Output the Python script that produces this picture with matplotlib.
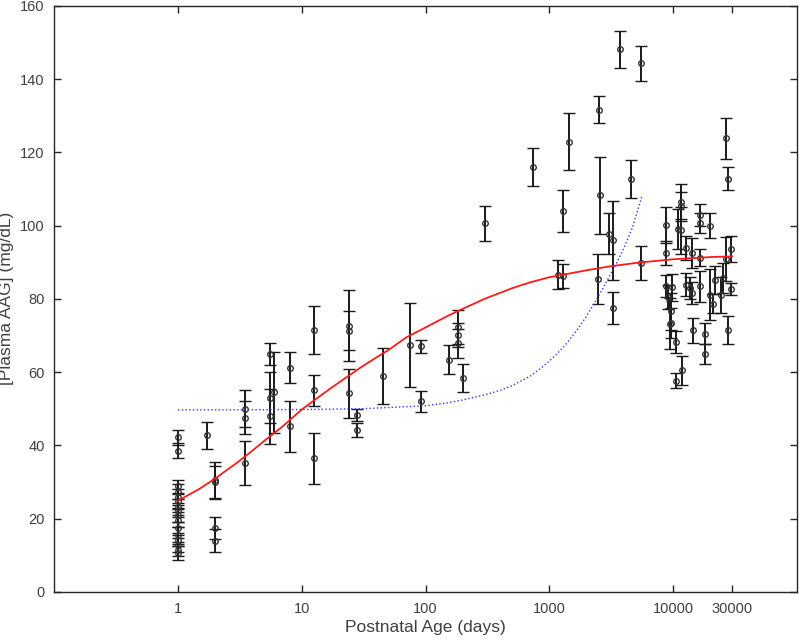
import matplotlib
matplotlib.use('Agg')
import matplotlib.pyplot as plt
from matplotlib.ticker import FixedLocator, FixedFormatter, NullLocator
import numpy as np

# observed AAG by postnatal age: mean and SD
age = [1, 1, 1, 1, 1, 1, 1, 1, 1, 1, 1, 1, 1, 1, 1, 1,
       1.7, 2.0, 2.0, 2.0, 2.0,
       3.5, 3.5, 3.5,
       5.5, 5.5, 5.5, 6.0,
       8.0, 8.0,
       12.5, 12.5, 12.5,
       24, 24, 24, 28, 28,
       45, 75, 91, 91, 154, 182, 182, 182, 202,
       300, 733, 1170, 1290, 1290, 1450,
       2460, 2520, 2570, 3020, 3250, 3250, 3700, 4600, 5550, 5550,
       8830, 8770, 8770, 9020, 9880, 9700, 9600, 9500, 10640, 10640, 11750,
       11500, 11500, 11000, 11500, 12620, 12620, 13640, 14300, 14570, 14300,
       16400, 16400, 16400, 16400, 18100, 18100, 20000, 20000, 21100, 21800,
       24500, 25300, 26600, 29200, 29200, 27900, 26700, 27600]
aag = [42.2, 38.6, 28.8, 27.4, 26.0, 24.7, 23.3, 22.4, 21.0, 19.7, 17.4, 15.6, 14.2, 12.8, 11.5, 10.6,
       42.7, 30.6, 30.0, 17.4, 14.0,
       50.0, 47.6, 35.1,
       65.0, 53.0, 48.0, 54.5,
       61.2, 45.2,
       71.5, 55.0, 36.5,
       72.7, 71.3, 54.2, 48.3, 44.2,
       59.0, 67.4, 67.0, 52.0, 63.4, 72.3, 70.2, 67.9, 58.4,
       100.6, 116.0, 86.6, 86.2, 104.0, 122.9,
       85.5, 131.6, 108.3, 97.8, 96.0, 77.5, 148.1, 112.7, 144.3, 89.8,
       100.1, 92.5, 83.6, 80.5, 83.1, 76.6, 73.4, 73.2, 68.2, 57.7, 60.5,
       106.5, 105.3, 99.0, 98.7, 93.9, 83.9, 83.0, 81.6, 71.4, 92.5,
       103.0, 100.7, 91.2, 83.4, 70.5, 65.0, 100.0, 81.1, 78.7, 85.2,
       81.1, 85.7, 90.9, 93.6, 82.7, 71.6, 123.8, 112.8]
sd = [2.0, 2.0, 1.8, 2.0, 2.2, 2.0, 2.2, 2.0, 2.0, 2.0, 1.8, 2.0, 1.8, 1.8, 1.6, 1.8,
      3.8, 5.0, 4.5, 3.0, 3.2,
      5.0, 4.4, 6.0,
      3.0, 7.0, 7.5, 11.0,
      4.2, 7.0,
      6.5, 4.2, 7.0,
      9.6, 5.3, 6.6, 1.7, 2.0,
      7.7, 11.5, 1.8, 2.8, 4.0, 4.6, 3.3, 4.0, 3.8,
      4.8, 5.3, 4.0, 3.2, 5.8, 7.7,
      6.8, 3.7, 10.5, 5.5, 10.8, 4.3, 5.0, 5.3, 4.8, 4.6,
      4.9, 3.3, 3.0, 3.4, 3.8, 5.0, 4.0, 7.0, 3.0, 2.0, 4.0,
      4.8, 4.0, 5.5, 6.5, 3.2, 3.1, 3.0, 3.1, 3.5, 4.0,
      3.0, 2.8, 2.3, 4.2, 2.8, 2.8, 3.4, 7.0, 2.5, 3.8,
      5.0, 4.0, 6.0, 3.5, 1.6, 3.8, 5.7, 3.2]

# fitted models
fit_age = [1, 1.5, 2, 3, 4, 5, 7, 10, 15, 20, 30, 40, 50, 70, 100, 150, 200, 300,
           500, 700, 1000, 1500, 2000, 3000, 5000, 7000, 10000, 20000, 30000]
fit_aag = [24.9, 28.2, 31.0, 35.3, 38.6, 41.3, 45.2, 49.8, 54.2, 57.2, 61.3, 64.0,
           66.0, 69.5, 72.2, 75.3, 77.3, 80.0, 82.9, 84.5, 85.9, 87.0, 87.8, 88.8,
           89.8, 90.3, 90.8, 91.4, 91.6]

alt_age = [1, 3, 10, 30, 100, 150, 200, 300, 400, 500, 700, 850, 1000, 1200,
           1400, 1700, 2000, 2500, 3000, 3500, 4000, 4700, 5600]
alt_aag = [49.7, 49.7, 49.8, 50.0, 50.8, 51.6, 52.4, 53.8, 55.0, 56.3, 58.9,
           61.0, 63.0, 65.6, 68.1, 71.8, 75.3, 80.8, 85.6, 89.8, 93.8, 99.5,
           108.0]

xticks = [1, 10, 100, 1000, 10000, 30000]
xlabels = ['1', '10', '100', '1000', '10000', '30000']

plt.rcParams['font.family'] = ['Liberation Sans', 'DejaVu Sans']

fig = plt.figure(figsize=(8, 6.42), dpi=100)
ax = fig.add_axes([0.068, 0.078, 0.928, 0.913])

ax.errorbar(age, aag, yerr=sd, fmt='o', ms=4, mfc='none', mec='#333333', mew=1.0,
            ecolor='#1a1a1a', elinewidth=1.4, capsize=4.5, capthick=1.4, zorder=3)
ax.plot(fit_age, fit_aag, color='#ff1a1a', lw=1.3, zorder=4)
ax.plot(alt_age, alt_aag, color='#3333ff', lw=1.0, ls=':', zorder=4)

ax.set_xscale('log')
ax.set_xlim(0.1, 100000)
ax.set_ylim(0, 160)
ax.xaxis.set_major_locator(FixedLocator(xticks))
ax.xaxis.set_major_formatter(FixedFormatter(xlabels))
ax.xaxis.set_minor_locator(NullLocator())
ax.set_yticks(np.arange(0, 161, 20))

ax.tick_params(direction='in', length=5, width=1, colors='#262626', labelsize=10.5,
               labelcolor='#404040', top=True, right=True, pad=7)
for s in ax.spines.values():
    s.set_color('#262626')
    s.set_linewidth(1.0)

ax.set_xlabel('Postnatal Age (days)', fontsize=12.5, color='#404040', labelpad=3)
ax.set_ylabel('[Plasma AAG] (mg/dL)', fontsize=12.5, color='#404040')
ax.yaxis.set_label_coords(-0.054, 0.5)

fig.savefig('out.png', dpi=100)
